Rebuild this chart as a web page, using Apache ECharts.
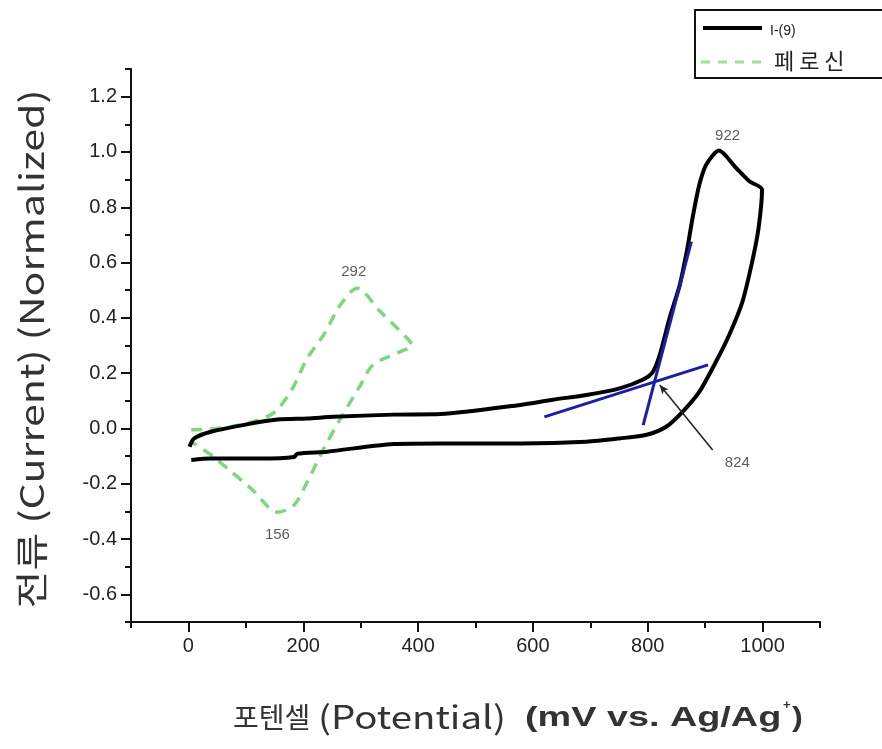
<!DOCTYPE html>
<html>
<head>
<meta charset="utf-8">
<script src="https://cdn.jsdelivr.net/npm/echarts@6/dist/echarts.min.js"></script>
<style>html,body{margin:0;padding:0;background:#fff;}#c{width:882px;height:749px;}</style>
</head>
<body>
<div id="c"></div>
<script>
// ---- data ----
const sampleName = 'I-(9)';
const refName = '페 로 신';
// black CV loop: [potential mV, normalized current]
const sampleCV = [
  [2,-0.066],[10,-0.036],[39,-0.012],[97,0.013],[155,0.032],[207,0.036],[253,0.042],[357,0.050],[439,0.052],
  [578,0.085],[635,0.104],[693,0.121],[751,0.145],[791,0.176],[809,0.205],[821,0.267],[838,0.399],[856,0.521],
  [869,0.652],[878,0.761],[890,0.883],[902,0.955],[924,1.005],[954,0.942],[977,0.894],[999,0.864],
  [993,0.725],[982,0.604],[965,0.459],[942,0.339],[919,0.242],[890,0.133],[861,0.061],[832,0.006],[798,-0.023],
  [751,-0.036],[693,-0.048],[578,-0.054],[439,-0.054],[357,-0.056],[242,-0.084],[190,-0.091],[184,-0.103],
  [126,-0.109],[39,-0.109],[5,-0.114]
];
// green dashed ferrocene loop
const refCV = [
  [5,-0.005],[74,0.006],[144,0.05],[178,0.133],[207,0.254],[236,0.34],[265,0.448],[294,0.507],[334,0.423],
  [381,0.326],[390,0.3],[369,0.278],[322,0.231],[300,0.158],[265,0.036],[236,-0.072],[207,-0.193],[184,-0.277],
  [156,-0.303],[109,-0.217],[68,-0.145],[39,-0.095],[5,-0.048]
];
// blue tangent lines
const tangentSteep = [[792,0.012],[876,0.676]];
const tangentFlat = [[620,0.042],[905,0.230]];
// annotation pointer line (from intersection to label)
const pointerLine = [[821,0.157],[913,-0.078]];
// peak labels: [x, y, text]
const peakLabels = [[939,1.06,'922'],[288,0.568,'292'],[155,-0.386,'156'],[956,-0.125,'824']];
// ticks
const xMajorTicks = [0,200,400,600,800,1000];
const xMinorTicks = [-100,100,300,500,700,900,1100];
const yMajorTicks = [-0.6,-0.4,-0.2,0,0.2,0.4,0.6,0.8,1.0,1.2];
const yMinorTicks = [-0.7,-0.5,-0.3,-0.1,0.1,0.3,0.5,0.7,0.9,1.1,1.3];

const chart = echarts.init(document.getElementById('c'));
const tickFont = 'Liberation Sans, Arial, sans-serif';
const korFont = '"Noto Sans CJK KR", "Liberation Sans", sans-serif';

const baseX = {type:'value', min:-100, max:1100, position:'bottom', splitLine:{show:false}};
const baseY = {type:'value', min:-0.7, max:1.3, position:'left', splitLine:{show:false}};

chart.setOption({
  backgroundColor:'#ffffff',
  animation:false,
  grid:{left:131, right:62, top:69, bottom:127, containLabel:false},
  xAxis:[
    Object.assign({}, baseX, {
      axisLine:{show:true, onZero:false, lineStyle:{color:'#111', width:2}},
      axisTick:{show:true, length:10, lineStyle:{color:'#111', width:2}, customValues:xMajorTicks},
      axisLabel:{show:true, margin:14, color:'#222', fontSize:20, fontFamily:tickFont, customValues:xMajorTicks,
        formatter:v=>String(Math.round(v))}
    }),
    Object.assign({}, baseX, {
      axisLine:{show:false, onZero:false},
      axisTick:{show:true, length:6, lineStyle:{color:'#111', width:2}, customValues:xMinorTicks},
      axisLabel:{show:false}
    })
  ],
  yAxis:[
    Object.assign({}, baseY, {
      axisLine:{show:true, onZero:false, lineStyle:{color:'#111', width:2}},
      axisTick:{show:true, length:10, lineStyle:{color:'#111', width:2}, customValues:yMajorTicks},
      axisLabel:{show:true, margin:14, color:'#222', fontSize:20, fontFamily:tickFont, customValues:yMajorTicks,
        formatter:v=>(Math.abs(v)<1e-9?0:v).toFixed(1)}
    }),
    Object.assign({}, baseY, {
      axisLine:{show:false, onZero:false},
      axisTick:{show:true, length:6, lineStyle:{color:'#111', width:2}, customValues:yMinorTicks},
      axisLabel:{show:false}
    })
  ],
  series:[
    {name:refName, type:'line', data:refCV, showSymbol:false, smooth:0.3, z:2,
      lineStyle:{color:'#7dd87d', width:3.5, type:[11,8]}},
    {name:sampleName, type:'line', data:sampleCV, showSymbol:false, smooth:0.25, z:3,
      lineStyle:{color:'#000', width:4}},
    {type:'line', data:tangentSteep, showSymbol:false, z:4, lineStyle:{color:'#1c1ca8', width:3}},
    {type:'line', data:tangentFlat, showSymbol:false, z:4, lineStyle:{color:'#1c1ca8', width:3}},
    {type:'line', data:[], z:5,
      markLine:{silent:true, symbol:['arrow','none'], symbolSize:[6,9], label:{show:false},
        lineStyle:{color:'#222', width:1.5, type:'solid'},
        data:[[{coord:pointerLine[0]},{coord:pointerLine[1]}]]}},
    {type:'scatter', data:peakLabels.map(p=>({value:[p[0],p[1]], name:p[2]})), symbolSize:0, z:6,
      label:{show:true, position:'inside', formatter:p=>p.name, fontSize:15, color:'#333', fontFamily:tickFont}}
  ],
  graphic:[
    {type:'rect', shape:{x:695, y:10, width:200, height:68}, style:{fill:'#fff', stroke:'#111', lineWidth:2}, z:10},
    {type:'line', shape:{x1:703, y1:28, x2:762, y2:28}, style:{stroke:'#000', lineWidth:4}, z:11},
    {type:'text', x:770, y:31, style:{text:sampleName, fontSize:14, fill:'#222', fontFamily:tickFont, verticalAlign:'middle'}, z:11},
    {type:'line', shape:{x1:701, y1:62, x2:762, y2:62}, style:{stroke:'#9ee09e', lineWidth:3, lineDash:[9,8]}, z:11},
    {type:'text', x:774, y:61, style:{text:refName, fontSize:22, fill:'#222', fontFamily:korFont, verticalAlign:'middle'}, z:11},
    // y-axis title (rotated, stretched along its length)
    {type:'text', x:31, y:349, rotation:Math.PI/2, scaleX:1.25, scaleY:1,
      style:{text:'전류 (Current) (Normalized)', fontSize:33, fill:'#333', fontFamily:korFont, align:'center', verticalAlign:'middle'}, z:10},
    // x-axis title pieces
    {type:'text', x:233, y:717, style:{text:'포텐셀', fontSize:28, fill:'#333', fontFamily:korFont, verticalAlign:'middle'}, z:10},
    {type:'text', x:318, y:717, scaleX:1.2, style:{text:'(Potential)', fontSize:32, fill:'#333', fontFamily:korFont, verticalAlign:'middle'}, z:10},
    {type:'text', x:525, y:719, scaleX:1.4, style:{text:'(mV vs. Ag/Ag', fontSize:27, fontWeight:'bold', fill:'#333', fontFamily:tickFont, verticalAlign:'middle'}, z:10},
    {type:'text', x:783, y:705, style:{text:'+', fontSize:13, fontWeight:'bold', fill:'#333', fontFamily:tickFont, verticalAlign:'middle'}, z:10},
    {type:'text', x:792, y:719, scaleX:1.2, style:{text:')', fontSize:27, fontWeight:'bold', fill:'#333', fontFamily:tickFont, verticalAlign:'middle'}, z:10}
  ]
});
</script>
</body>
</html>
